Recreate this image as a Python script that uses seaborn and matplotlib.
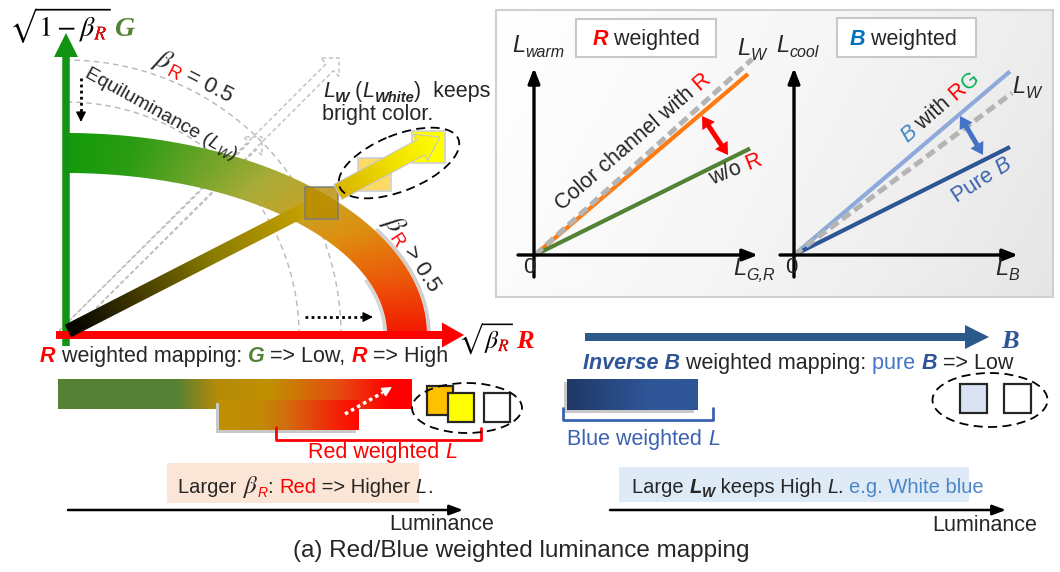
import numpy as np
import pandas as pd
import matplotlib
matplotlib.use("Agg")
import matplotlib.pyplot as plt
import seaborn as sns
from matplotlib.colors import LinearSegmentedColormap
from matplotlib.patches import Polygon, Rectangle, Ellipse, PathPatch
from matplotlib.textpath import TextPath
from matplotlib.transforms import Affine2D

# ---------------- data ----------------
# inset lines: end points in axis units (origin at 0,0)
warm_lines = ["with R", "L_W", "w/o R"]
warm_xend = [1.0, 1.02, 1.01]
warm_yend = [0.85, 0.92, 0.50]
warm_colors = ["#ff7a10", "#b4b4b4", "#548235"]
cool_lines = ["B with RG", "L_W", "pure B"]
cool_xend = [1.0, 1.01, 1.0]
cool_yend = [0.85, 0.75, 0.50]
cool_colors = ["#8eaadb", "#b4b4b4", "#2f5597"]

# beta_R band colour stops, from R axis (0) to G axis (1)
band_stops = [0.0, 0.2, 0.38, 0.5, 0.62, 0.75, 0.88, 1.0]
band_colors = ["#f21800", "#ec5a0a", "#dd9010", "#c6a428", "#a8ac38", "#6aa428", "#2c9c14", "#129a0a"]
# luminance mapping bars
upper_stops = [0.0, 0.33, 0.45, 0.6, 0.8, 0.94, 1.0]
upper_colors = ["#548235", "#548235", "#b48a08", "#c09000", "#e64a10", "#ff0000", "#ff0000"]
lower_stops = [0.0, 0.3, 0.5, 0.8, 1.0]
lower_colors = ["#bf9000", "#c28a06", "#d46a10", "#f02a08", "#ff0800"]
blue_stops = [0.0, 0.6, 1.0]
blue_colors = ["#1f3864", "#2f5597", "#2f5597"]

W, H = 1060, 572
S = 15.5

sns.set_style("white")
plt.rcParams["font.family"] = ["Liberation Sans", "DejaVu Sans"]
plt.rcParams["mathtext.fontset"] = "stix"

fig = plt.figure(figsize=(W / 100, H / 100), dpi=100)
fig.patch.set_facecolor("white")
ax_bg = fig.add_axes([0, 0, 1, 1], zorder=0)
ax = fig.add_axes([0, 0, 1, 1], zorder=2)
for a in (ax_bg, ax):
    a.set_xlim(0, W); a.set_ylim(H, 0); a.axis("off")
ax.patch.set_visible(False)
R = fig.canvas.get_renderer()


def cmap_of(stops, colors):
    return LinearSegmentedColormap.from_list("c", list(zip(stops, colors)))


def lin(p0, p1):
    dx, dy = p1[0] - p0[0], p1[1] - p0[1]
    return lambda X, Y: ((X - p0[0]) * dx + (Y - p0[1]) * dy) / (dx * dx + dy * dy)


def grad_patch(target, verts, tfun, cmap, z, ec="none", lw=0):
    verts = np.asarray(verts, float)
    poly = Polygon(verts, closed=True, fc="none", ec=ec, lw=lw, zorder=z + 0.1)
    target.add_patch(poly)
    x0, y0 = verts.min(0); x1, y1 = verts.max(0)
    X, Y = np.meshgrid(np.linspace(x0, x1, int(x1 - x0) + 2), np.linspace(y0, y1, int(y1 - y0) + 2))
    im = target.imshow(np.clip(tfun(X, Y), 0, 1), cmap=cmap, vmin=0, vmax=1, extent=(x0, x1, y1, y0),
                       origin="upper", interpolation="bilinear", aspect="auto", zorder=z)
    im.set_clip_path(poly)


def rect_verts(x0, y0, x1, y1):
    return [(x0, y0), (x1, y0), (x1, y1), (x0, y1)]


def arrow_poly(p0, p1, w, hw, hl):
    p0, p1 = np.array(p0, float), np.array(p1, float)
    u = (p1 - p0) / np.hypot(*(p1 - p0)); n = np.array([-u[1], u[0]])
    b = p1 - u * hl
    return np.array([p0 + n * w / 2, b + n * w / 2, b + n * hw / 2, p1, b - n * hw / 2, b - n * w / 2, p0 - n * w / 2])


def double_arrow_poly(p0, p1, w, hw, hl):
    p0, p1 = np.array(p0, float), np.array(p1, float)
    u = (p1 - p0) / np.hypot(*(p1 - p0)); n = np.array([-u[1], u[0]])
    b0, b1 = p0 + u * hl, p1 - u * hl
    return np.array([p0, b0 + n * hw / 2, b0 + n * w / 2, b1 + n * w / 2, b1 + n * hw / 2, p1,
                     b1 - n * hw / 2, b1 - n * w / 2, b0 - n * w / 2, b0 - n * hw / 2])


def _w(s, kw):
    if s.startswith("$"):
        t = ax.text(0, 0, s, **kw); w = t.get_window_extent(R).width; t.remove(); return w
    t1 = ax.text(0, 0, "|" + s + "|", **kw); t2 = ax.text(0, 0, "||", **kw)
    w = t1.get_window_extent(R).width - t2.get_window_extent(R).width
    t1.remove(); t2.remove(); return w


def chain(x, y, parts, size=S, rot=0, ha="left", z=9):
    items, ws = [], []
    for p in parts:
        kw = dict(p[1]) if len(p) > 1 else {}
        dy = kw.pop("dy", 0)
        kw.setdefault("fontsize", size)
        items.append((p[0], kw, dy)); ws.append(_w(p[0], kw))
    d = {"left": 0, "center": -sum(ws) / 2, "right": -sum(ws)}[ha]
    th = np.deg2rad(rot)
    for (s, kw, dy), w in zip(items, ws):
        ax.text(x + d * np.cos(th) + dy * np.sin(th), y - d * np.sin(th) + dy * np.cos(th), s,
                rotation=rot, rotation_mode="anchor", ha="left", va="baseline", zorder=z, **kw)
        d += w


def sqrt_label(x, y, expr, expr_nosub, size, tail, tail_color, tail_size):
    # glyph outlines so the red subscript can be cut out with a clip box
    k = 100 / 72
    tp = TextPath((0, 0), expr, size=size)
    ext, next_ = tp.get_extents(), TextPath((0, 0), expr_nosub, size=size).get_extents()
    tr = Affine2D().scale(k, -k).translate(x, y) + ax.transData
    ax.add_patch(PathPatch(tp, fc="black", ec="none", transform=tr, zorder=9))
    red = PathPatch(tp, fc="red", ec="none", transform=tr, zorder=10)
    ax.add_patch(red)
    xa = x + (next_.x1 - 2.5) * k
    ytop = y - (ext.y0 + 0.55 * ext.height) * k
    clip = Rectangle((xa, ytop), (ext.x1 - next_.x1 + 4) * k, (0.55 * ext.height + 2) * k + 2,
                     transform=ax.transData)
    red.set_clip_path(clip)
    ax.text(x + ext.x1 * k + 3, y, tail, fontsize=tail_size, va="baseline", family="Liberation Serif",
            weight="bold", style="italic", color=tail_color, zorder=9)


BI = dict(weight="bold", style="italic")
RED = "#ff0000"; BLUE = "#2f5597"; GREEN = "#548235"

# ---------------- left diagram ----------------
ox, oy = 66, 335
phi = np.linspace(0, np.pi / 2, 120)
for r in (275, 233):
    ax.plot(ox + r * np.cos(phi), oy - r * np.sin(phi), color="#b8b8b8", lw=1, ls=(0, (4, 3)), zorder=1)
for p1 in [(339, 58), (262, 137)]:
    ax.add_patch(Polygon(arrow_poly((63, 334), p1, 10, 26, 13), closed=True, fill=False,
                         ec="#bdbdbd", lw=1, ls=(0, (3, 2)), zorder=1))

ao, bo, ai, bi = 361, 202, 321, 162
outer = np.c_[ox + ao * np.cos(phi), oy - bo * np.sin(phi)]
inner = np.c_[ox + ai * np.cos(phi), oy - bi * np.sin(phi)][::-1]
sh = phi[phi < 0.55]
ax.plot(ox + (ao + 2) * np.cos(sh), oy - (bo + 2) * np.sin(sh), color="#cfcfcf", lw=2.5, zorder=1.5)
ax.plot(ox + (ai - 2) * np.cos(sh[sh < 0.35]), oy - (bi - 2) * np.sin(sh[sh < 0.35]), color="#d6d6d6", lw=2.5, zorder=1.5)
am, bm = (ao + ai) / 2, (bo + bi) / 2
grad_patch(ax, np.r_[outer, inner],
           lambda X, Y: np.arctan2((oy - Y) / bm, (X - ox) / am) / (np.pi / 2),
           cmap_of(band_stops, band_colors), 2)

# axes arrows
ax.add_patch(Polygon(arrow_poly((66, 346), (66, 33), 7.5, 24, 24), closed=True, fc="#129412", ec="none", zorder=3))
ax.add_patch(Polygon(arrow_poly((56, 335), (464, 335), 8, 25, 22), closed=True, fc=RED, ec="none", zorder=3))

# dotted hints
ax.plot([81, 81], [78, 112], color="black", lw=2, ls=(0, (1, 1.2)), zorder=4)
ax.annotate("", xy=(81, 122), xytext=(81, 111), arrowprops=dict(arrowstyle="-|>,head_length=0.6,head_width=0.3",
            color="black", lw=1, shrinkA=0, shrinkB=0), zorder=4)
ax.plot([305, 362], [317, 317], color="black", lw=2, ls=(0, (1, 1.2)), zorder=4)
ax.annotate("", xy=(373, 317), xytext=(361, 317), arrowprops=dict(arrowstyle="-|>,head_length=0.6,head_width=0.3",
            color="black", lw=1, shrinkA=0, shrinkB=0), zorder=4)

# gradient arrows to the bright colours
grad_patch(ax, arrow_poly((68, 331), (331, 196), 14, 24, 22), lin((68, 331), (331, 196)),
           cmap_of([0, 0.12, 0.55, 1], ["#000000", "#1e1a00", "#8a7c00", "#d8ac00"]), 4)
ax.add_patch(Rectangle((305, 187), 33, 32, fc="#b88a00", alpha=0.8, ec="#7a7a7a", lw=1.3, zorder=5))
ax.add_patch(Rectangle((358, 158), 33, 33, fc="#ffd966", ec="#d0d0d0", lw=1.2, zorder=5))
ax.add_patch(Rectangle((412, 131), 33, 32, fc="#ffff00", ec="#d0d0d0", lw=1.2, zorder=5))
grad_patch(ax, arrow_poly((338, 192), (440, 137), 17, 30, 22), lin((338, 192), (440, 137)),
           cmap_of([0, 0.6, 1], ["#d8b400", "#f4e600", "#ffff00"]), 6, ec="#c8c8c8", lw=0.8)
ax.add_patch(Ellipse((399, 163), 128, 56, angle=-22, fill=False, ec="black", lw=1.3, ls=(0, (5, 3)), zorder=7))

# axis labels of the diagram
sqrt_label(10, 36, r"$\sqrt{1-\beta_R}$", r"$\sqrt{1-\beta}$", 20, "G", GREEN, 20)
sqrt_label(459, 348, r"$\sqrt{\beta_R}$", r"$\sqrt{\beta}$", 18, "R", RED, 19)

chain(152, 63, [(r"$\beta$", dict(fontsize=20)), ("R", dict(color=RED, fontsize=13, dy=5)),
                (" = 0.5", dict(fontsize=16))], rot=-27)
chain(84, 77, [("Equiluminance (",), ("L", dict(style="italic")), ("W", dict(style="italic", fontsize=10, dy=4)),
               (")",)], size=14, rot=-29)
chain(323, 97, [("L", dict(style="italic")), ("W", dict(fontsize=11, dy=5, **BI)), (" (",),
                ("L", dict(style="italic")), ("White", dict(fontsize=10.5, dy=5, **BI)), (")  keeps",)], size=15.5)
chain(322, 120, [("bright color.",)], size=15.5)
chain(383, 221, [(r"$\beta$", dict(fontsize=20)), ("R", dict(color=RED, fontsize=13, dy=5)),
                 (" > 0.5", dict(fontsize=16))], rot=-57)

# ---------------- inset ----------------
grad_patch(ax_bg, rect_verts(496, 10, 1053, 297), lin((496, 10), (1053, 297)),
           cmap_of([0, 0.5, 1], ["#ffffff", "#f6f6f6", "#e6e6e6"]), 1, ec="#d0d0d0", lw=1.5)


def inset(ox_, oy_, unit, L, T, Rr, B):
    a = fig.add_axes([L / W, 1 - B / H, (Rr - L) / W, (B - T) / H], zorder=1)
    a.patch.set_visible(False)
    return a, ((L - ox_) / unit, (Rr - ox_) / unit), ((oy_ - B) / unit, (oy_ - T) / unit)


for (axspec, names, xe, ye, cols, order) in [
        (inset(535, 255, 213, 500, 15, 790, 295), warm_lines, warm_xend, warm_yend, warm_colors, [0, 2, 1]),
        (inset(794, 255, 216, 775, 15, 1050, 295), cool_lines, cool_xend, cool_yend, cool_colors, [0, 2, 1])]:
    a, xl, yl = axspec
    for i in order:
        df = pd.DataFrame({"x": [0, xe[i]], "y": [0, ye[i]]})
        ls = (0, (2, 1)) if names[i] == "L_W" else "-"
        lw = 3.6 if names[i] == "L_W" else 3.0
        sns.lineplot(data=df, x="x", y="y", ax=a, color=cols[i], lw=lw, linestyle=ls, solid_capstyle="butt")
    a.set_xlim(*xl); a.set_ylim(*yl); a.axis("off")

for (x0, y0, x1, y1) in [(534, 277, 534, 68), (518, 255, 758, 255), (794, 277, 794, 68), (780, 255, 1018, 255)]:
    ax.annotate("", xy=(x1, y1), xytext=(x0, y0), arrowprops=dict(arrowstyle="-|>,head_length=0.9,head_width=0.35",
                color="black", lw=2.4, shrinkA=0, shrinkB=0), zorder=8)
for (p0, p1, c) in [((702, 116), (728, 155), RED), ((960, 116), (983, 155), "#4472c4")]:
    ax.add_patch(Polygon(double_arrow_poly(p0, p1, 5, 15, 12), closed=True, fc=c, ec="none", zorder=8))

for (x0, y0, x1, y1) in [(576, 19, 716, 57), (837, 18, 976, 57)]:
    ax.add_patch(Rectangle((x0, y0), x1 - x0, y1 - y0, fc="white", ec="#c8c8c8", lw=1.5, zorder=7))
chain(646, 45, [("R", dict(color=RED, **BI)), (" weighted",)], ha="center")
chain(903, 45, [("B", dict(color="#0070c0", **BI)), (" weighted",)], ha="center")

for (x, y, sub) in [(512, 52, "warm"), (776, 52, "cool"), (737, 55, "W"), (1012, 93, "W"),
                    (733, 275, "G,R"), (995, 275, "B")]:
    chain(x, y, [("L", dict(style="italic", fontsize=17)), (sub, dict(style="italic", fontsize=11.5, dy=5))])
chain(523, 273, [("0",)], size=16)
chain(785, 273, [("0",)], size=16)

chain(562, 211, [("Color channel with ",), ("R", dict(color=RED))], rot=41)
chain(712, 185, [("w/o ",), ("R", dict(color=RED))], rot=22)
chain(907, 143, [("B", dict(color="#3d85c6", style="italic")), (" with ",), ("R", dict(color=RED)),
                 ("G", dict(color="#00b050"))], rot=41)
chain(957, 203, [("Pure ", dict(color="#3a62b0")), ("B", dict(color="#3a62b0", style="italic"))], rot=33)

# ---------------- bottom left: R weighted mapping ----------------
chain(40, 362, [("R", dict(color=RED, **BI)), (" weighted mapping: ",), ("G", dict(color=GREEN, **BI)),
                (" => Low, ",), ("R", dict(color=RED, **BI)), (" => High",)])
grad_patch(ax, rect_verts(58, 379, 412, 409), lin((58, 0), (412, 0)), cmap_of(upper_stops, upper_colors), 2)
ax.add_patch(Rectangle((216, 403), 140, 30, fc="#c8c8c8", ec="none", zorder=2.5))
grad_patch(ax, rect_verts(219, 400, 359, 430), lin((219, 0), (359, 0)), cmap_of(lower_stops, lower_colors), 3)
ax.plot([345, 382], [414, 393], color="white", lw=2.5, ls=(0, (1, 1)), zorder=4)
ax.annotate("", xy=(392, 387), xytext=(382, 393), arrowprops=dict(arrowstyle="-|>,head_length=0.6,head_width=0.3",
            color="white", lw=1, shrinkA=0, shrinkB=0), zorder=4)
for (x, y, c) in [(427, 386, "#ffc000"), (448, 393, "#ffff00"), (484, 393, "white")]:
    ax.add_patch(Rectangle((x, y), 26, 29, fc=c, ec="#262626", lw=1.6, zorder=5))
ax.add_patch(Ellipse((467, 408), 110, 50, fill=False, ec="black", lw=1.3, ls=(0, (5, 3)), zorder=6))
ax.plot([276, 276, 481, 481], [427, 440, 440, 428], color=RED, lw=2, zorder=5)
chain(308, 458, [("Red weighted ", dict(color=RED)), ("L", dict(color=RED, style="italic"))])

ax.add_patch(Rectangle((167, 463), 252, 40, fc="#fbe5d6", ec="none", zorder=1))
chain(178, 493, [("Larger ",), (r"$\beta$", dict(fontsize=18)), ("R", dict(color=RED, style="italic", fontsize=10, dy=4)),
                 (": ",), ("Red", dict(color=RED)), (" => Higher ",), ("L", dict(style="italic")), (".",)], size=14.5)
ax.annotate("", xy=(463, 510), xytext=(68, 510), arrowprops=dict(arrowstyle="-|>,head_length=0.8,head_width=0.3",
            color="black", lw=1.8, shrinkA=0, shrinkB=0), zorder=5)
chain(389, 530, [("Luminance",)], size=15.5)

# ---------------- bottom right: inverse B mapping ----------------
ax.add_patch(Polygon(arrow_poly((585, 337), (989, 337), 8, 24, 24), closed=True, fc="#2b5a8a", ec="none", zorder=3))
ax.text(1001, 348, "B", fontsize=19, family="Liberation Serif", color=BLUE, zorder=9, **BI)
chain(583, 369, [("Inverse B", dict(color=BLUE, **BI)), (" weighted mapping: ",), ("pure ", dict(color="#4472c4")),
                 ("B", dict(color=BLUE, **BI)), (" => Low",)])
ax.add_patch(Rectangle((564, 382), 130, 31, fc="#c8c8c8", ec="none", zorder=2.5))
grad_patch(ax, rect_verts(567, 379, 698, 410), lin((567, 0), (698, 0)), cmap_of(blue_stops, blue_colors), 3)
ax.plot([563, 563, 713, 713], [408, 420, 420, 408], color="#3a62b0", lw=2, zorder=5)
chain(567, 445, [("Blue weighted ", dict(color="#3a62b0")), ("L", dict(color="#3a62b0", style="italic"))])
for (x, c) in [(960, "#dae3f3"), (1004, "white")]:
    ax.add_patch(Rectangle((x, 384), 27, 29, fc=c, ec="#262626", lw=1.6, zorder=5))
ax.add_patch(Ellipse((990, 400), 115, 54, fill=False, ec="black", lw=1.3, ls=(0, (5, 3)), zorder=6))

ax.add_patch(Rectangle((619, 467), 350, 35, fc="#deebf7", ec="none", zorder=1))
chain(632, 493, [("Large ",), ("L", dict(**BI)), ("W", dict(fontsize=10, dy=4, **BI)), (" keeps High ",),
                 ("L", dict(style="italic")), (". ",), ("e.g. White blue", dict(color="#4a86c8"))], size=14.5)
ax.annotate("", xy=(1006, 510), xytext=(610, 510), arrowprops=dict(arrowstyle="-|>,head_length=0.8,head_width=0.3",
            color="black", lw=1.8, shrinkA=0, shrinkB=0), zorder=5)
chain(932, 531, [("Luminance",)], size=15.5)

chain(521, 557, [("(a) Red/Blue weighted luminance mapping",)], size=17.5, ha="center")

for a in (ax_bg, ax):
    a.set_xlim(0, W); a.set_ylim(H, 0)
fig.savefig("out.png", dpi=100, facecolor="white")
